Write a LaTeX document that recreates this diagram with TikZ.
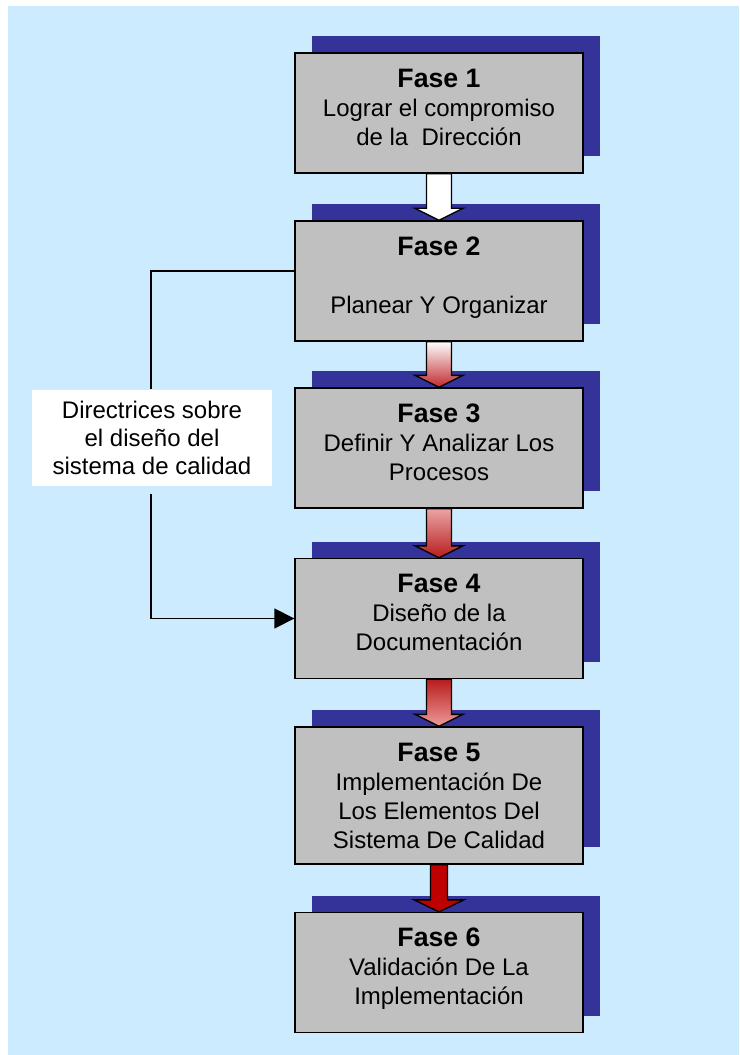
\documentclass[tikz,border=0pt]{standalone}
\usepackage{fontspec}
\setmainfont{Liberation Sans}
\usetikzlibrary{calc,shadows,arrows.meta}
\definecolor{bgblue}{HTML}{CCEBFF}
\definecolor{shadowblue}{HTML}{333399}
\definecolor{boxgray}{HTML}{C0C0C0}
\definecolor{redA}{HTML}{C0282D}
\definecolor{redB}{HTML}{B81C1C}
\definecolor{pinkA}{HTML}{EAA5A5}
\definecolor{pinkB}{HTML}{EE9A9A}
\definecolor{redC}{HTML}{BE0000}
\newcommand\fasefont{\fontsize{20}{21.75}\selectfont\bfseries}
\newcommand\blockarrow[5]{%
  \path[#5] ($(#1.south)+(-#3,0)$) -- ($(#2.north)+(-#3,-12)$) -- ($(#2.north)+(-#4,-12)$) -- (#2.north)
    -- ($(#2.north)+(#4,-12)$) -- ($(#2.north)+(#3,-12)$) -- ($(#1.south)+(#3,0)$) -- cycle;}
\tikzset{
  fasebox/.style={draw=black, line width=1pt, fill=boxgray, minimum width=216pt, minimum height=90pt,
    inner sep=0pt, align=center, font=\fontsize{18}{21.75}\selectfont, text depth=9pt,
    general shadow={fill=shadowblue, shadow xshift=13pt, shadow yshift=12.75pt}},
  blockarr/.style={draw=black, line width=1pt},
  conn/.style={draw=black, line width=1pt},
  note/.style={fill=white, minimum width=180pt, minimum height=72pt, inner sep=0pt, align=center,
    font=\fontsize{18}{21}\selectfont}
}
\begin{document}
\begin{tikzpicture}[x=0.75pt,y=-0.75pt]
\useasboundingbox (0,0) rectangle (739,1055);
\fill[bgblue] (8,6) rectangle (739,1055);

\node[fasebox] (b1) at (439,113) {{\fasefont Fase 1}\\Lograr el compromiso\\de la\ \ Dirección};
\node[fasebox] (b2) at (439,281) {{\fasefont Fase 2}\\[21.75pt]Planear Y Organizar};
\node[fasebox] (b3) at (439,448) {{\fasefont Fase 3}\\Definir Y Analizar Los\\Procesos};
\node[fasebox] (b4) at (439,618.5) {{\fasefont Fase 4}\\Diseño de la\\Documentación};
\node[fasebox, minimum height=102.75pt, text depth=0pt] (b5) at (439,795.5) {{\fasefont Fase 5}\\Implementación De\\Los Elementos Del\\Sistema De Calidad};
\node[fasebox] (b6) at (439,972.5) {{\fasefont Fase 6}\\Validación De La\\Implementación};

\blockarrow{b1}{b2}{12.5}{24}{blockarr, fill=white}
\blockarrow{b2}{b3}{12.5}{24}{blockarr, top color=white, bottom color=redA}
\blockarrow{b3}{b4}{12.5}{24}{blockarr, top color=pinkA, bottom color=redB}
\blockarrow{b4}{b5}{12.5}{24}{blockarr, top color=redB, bottom color=pinkB}
\blockarrow{b5}{b6}{8.5}{25}{blockarr, fill=redC}

\node[note] (lbl) at (152,438) {Directrices sobre\\el diseño del\\sistema de calidad};
\coordinate (c1) at (151,389);
\coordinate (c2) at (151,494);
\draw[conn] ([yshift=7.5pt]b2.west) -| (c1);
\draw[conn, -{Triangle[length=15pt,width=15pt]}] (c2) |- (b4.west);
\end{tikzpicture}
\end{document}
